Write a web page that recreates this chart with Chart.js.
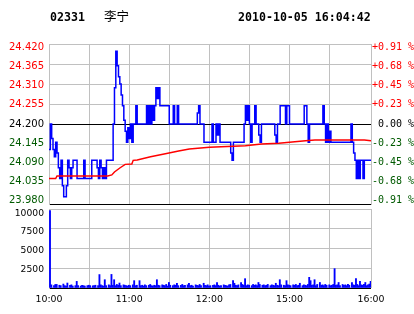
<!DOCTYPE html>
<html><head><meta charset="utf-8">
<script src="https://cdn.jsdelivr.net/npm/chart.js@4.4.1/dist/chart.umd.min.js"></script>
<style>
html,body{margin:0;padding:0;background:#fff;}
#wrap{position:relative;width:414px;height:314px;overflow:hidden;background:#fff;}
canvas{position:absolute;left:0;top:0;}
.t{position:absolute;top:10px;font-family:"DejaVu Sans Mono";font-weight:bold;font-size:11.6px;line-height:14px;color:#000;white-space:pre;}
.cn{position:absolute;top:9px;left:104px;font-family:"Noto Sans CJK SC";font-size:12.5px;line-height:14px;color:#000;white-space:pre;}
</style></head><body>
<div id="wrap">
<canvas id="price" width="414" height="314"></canvas>
<canvas id="vol" width="414" height="314"></canvas>
<div class="t" style="left:50px">02331</div>
<div class="cn">李宁</div>
<div class="t" style="left:238px">2010-10-05 16:04:42</div>
</div>
<script>
// ---- data ----
// minute index: 0 = 10:00, 150 = 12:30, 151 = 14:30, 241 = 16:00
const priceIdx = [0,1,2,3,4,5,6,7,8,9,10,11,13,14,15,16,17,18,21,26,27,32,36,37,38,39,40,41,42,43,48,49,50,51,52,53,54,55,56,57,58,59,60,61,62,63,65,66,73,74,75,76,77,78,79,80,81,82,83,90,93,94,96,97,111,112,113,116,122,123,125,126,127,128,136,137,138,146,147,148,149,150,151,152,154,155,157,158,159,169,170,171,173,177,178,180,191,193,194,195,205,206,207,208,209,210,211,226,227,228,229,230,231,232,233,235,236,241];
const priceVal = [24.13,24.20,24.16,24.13,24.11,24.15,24.12,24.08,24.05,24.10,24.03,24.00,24.03,24.10,24.08,24.05,24.08,24.10,24.05,24.10,24.05,24.10,24.08,24.05,24.10,24.08,24.05,24.08,24.05,24.10,24.20,24.30,24.40,24.36,24.33,24.31,24.28,24.25,24.21,24.18,24.15,24.19,24.16,24.20,24.15,24.20,24.25,24.20,24.25,24.20,24.25,24.20,24.25,24.21,24.25,24.30,24.27,24.30,24.25,24.20,24.25,24.20,24.25,24.20,24.23,24.25,24.20,24.15,24.20,24.15,24.20,24.17,24.20,24.15,24.12,24.10,24.15,24.20,24.25,24.21,24.25,24.20,24.15,24.20,24.25,24.20,24.17,24.15,24.20,24.17,24.15,24.20,24.25,24.20,24.25,24.20,24.25,24.20,24.15,24.20,24.25,24.20,24.15,24.20,24.15,24.18,24.15,24.20,24.15,24.12,24.10,24.05,24.10,24.05,24.10,24.05,24.10,24.10];
const avgIdx = [0,5,6,44,47,49,53,57,62,63,66,76,88,97,105,120,147,159,172,192,199,236,241];
const avgVal = [24.050,24.050,24.057,24.057,24.060,24.068,24.079,24.089,24.090,24.100,24.101,24.110,24.119,24.126,24.131,24.136,24.140,24.145,24.147,24.154,24.156,24.156,24.154];
const volumes = [
9800,400,0,300,450,450,0,350,300,0,500,300,250,630,0,350,400,250,0,300,
840,300,0,250,350,300,250,0,300,350,300,0,280,300,350,0,300,1700,400,300,
250,1050,300,0,400,300,1720,350,1050,300,450,350,630,300,0,400,350,300,250,350,
300,0,400,930,300,350,0,930,300,350,250,400,300,0,350,450,300,250,350,300,
1050,350,300,0,400,350,300,450,250,700,350,0,300,400,350,600,300,0,350,450,
300,350,0,400,600,300,350,250,0,400,350,300,450,300,0,600,350,300,400,250,
300,0,350,400,300,700,350,250,300,0,400,350,300,250,400,450,0,930,600,350,
300,400,0,700,450,350,1180,300,400,350,0,300,450,350,400,300,700,450,0,350,
400,300,350,450,0,300,400,350,300,600,350,300,1050,400,0,350,300,930,400,350,
300,0,400,350,450,300,350,600,0,300,400,350,300,450,1350,930,350,400,1050,300,
450,0,700,350,400,300,450,350,0,400,300,350,450,2450,350,400,700,300,0,450,
350,400,300,450,350,0,700,400,350,1180,450,300,840,400,350,450,700,300,400,500,840];
const priceTicks = [23.980,24.035,24.090,24.145,24.200,24.255,24.310,24.365,24.420];
const pctLabels = ['-0.91 %','-0.68 %','-0.45 %','-0.23 %',' 0.00 %','+0.23 %','+0.45 %','+0.68 %','+0.91 %'];
const prevClose = 24.200;
const volTicks = [0,2500,5000,7500,10000];
const volLabels = ['','2500','5000','7500','10000'];
const gridIdx = [0,30,60,90,120,150,180,210,241];
const timeIdx = [0,60,120,180,241];
const timeLabels = ['10:00','11:00','12:00','15:00','16:00'];

// ---- styles ----
const GRID = '#c0c0c0';
const RED = '#ff0000', GREEN = '#005a00', BLUE = '#0000ff';
const near = (a,b) => Math.abs(a-b) < 1e-6;
const sideColor = v => near(v,prevClose) ? '#000' : (v > prevClose ? RED : GREEN);
const setTicks = arr => s => { s.ticks = arr.map(v => ({ value: v })); };

new Chart(document.getElementById('price'), {
  type: 'line',
  data: {
    datasets: [
      { yAxisID: 'yg', data: avgIdx.map((x,i)=>({x, y: avgVal[i]})), borderColor: RED, borderWidth: 1.5, pointRadius: 0, fill: false, tension: 0 },
      { yAxisID: 'yg', data: priceIdx.map((x,i)=>({x, y: priceVal[i]})), borderColor: BLUE, borderWidth: 1.5, pointRadius: 0, fill: false, stepped: true }
    ]
  },
  options: {
    responsive: false, animation: false, devicePixelRatio: 1,
    layout: { padding: { left: 0, right: 0, top: 44, bottom: 110 } },
    plugins: { legend: { display: false }, tooltip: { enabled: false } },
    scales: {
      x: {
        type: 'linear', min: 0, max: 241,
        afterBuildTicks: setTicks(gridIdx),
        afterFit: s => { s.height = 0; },
        ticks: { display: false },
        grid: { color: GRID, drawTicks: false },
        border: { display: false }
      },
      // grid axis (true price range)
      yg: {
        position: 'left', min: 23.98, max: 24.42,
        afterBuildTicks: setTicks(priceTicks),
        afterFit: s => { s.width = 0; },
        ticks: { display: false },
        grid: { drawTicks: false, color: c => (c.tick && (near(c.tick.value, prevClose) || near(c.tick.value, 23.98))) ? '#000' : GRID },
        border: { color: GRID }
      },
      // label axes (labels spread slightly inside the panel, as in the original)
      y: {
        position: 'left', min: 23.9690, max: 24.4307,
        afterBuildTicks: setTicks(priceTicks),
        afterFit: s => { s.width = 49; },
        ticks: {
          padding: 5, font: { family: 'DejaVu Sans', size: 10 },
          color: c => sideColor(c.tick.value),
          callback: v => v.toFixed(3)
        },
        grid: { display: false, drawTicks: false },
        border: { display: false }
      },
      y2: {
        position: 'right', min: 23.9690, max: 24.4307,
        afterBuildTicks: setTicks(priceTicks),
        afterFit: s => { s.width = 43; },
        ticks: {
          padding: 1, font: { family: 'DejaVu Sans Mono', size: 10 },
          color: c => sideColor(c.tick.value),
          callback: (v, i) => pctLabels[i]
        },
        grid: { drawOnChartArea: false, drawTicks: false },
        border: { color: GRID }
      }
    }
  }
});

new Chart(document.getElementById('vol'), {
  type: 'bar',
  data: {
    datasets: [{ yAxisID: 'yg', data: volumes.map((y,i)=>({ x: i + 0.75, y })), backgroundColor: BLUE, borderWidth: 0, barThickness: 1.2, grouped: false }]
  },
  options: {
    responsive: false, animation: false, devicePixelRatio: 1,
    layout: { padding: { left: 0, right: 43, top: 209, bottom: 0 } },
    plugins: { legend: { display: false }, tooltip: { enabled: false } },
    scales: {
      x: {
        type: 'linear', min: 0, max: 241, offset: false,
        afterBuildTicks: setTicks(gridIdx),
        afterFit: s => { s.height = 26; },
        ticks: {
          autoSkip: false, maxRotation: 0, padding: 6,
          font: { family: 'DejaVu Sans', size: 9.4 }, color: '#000',
          callback: v => { const k = timeIdx.indexOf(v); return k >= 0 ? timeLabels[k] : ''; }
        },
        grid: { color: GRID, drawTicks: false, offset: false },
        border: { display: false }
      },
      yg: {
        position: 'left', min: 0, max: 10000,
        afterBuildTicks: setTicks(volTicks),
        afterFit: s => { s.width = 0; },
        ticks: { display: false },
        grid: { drawTicks: false, color: c => (c.tick && c.tick.value === 0) ? '#000' : GRID },
        border: { color: GRID }
      },
      y: {
        position: 'left', min: 0, max: 10570,
        afterBuildTicks: setTicks(volTicks),
        afterFit: s => { s.width = 49; },
        ticks: {
          padding: 5, font: { family: 'DejaVu Sans', size: 9.2 }, color: '#000',
          callback: (v, i) => volLabels[i]
        },
        grid: { display: false, drawTicks: false },
        border: { display: false }
      }
    }
  }
});
</script>
</body></html>
